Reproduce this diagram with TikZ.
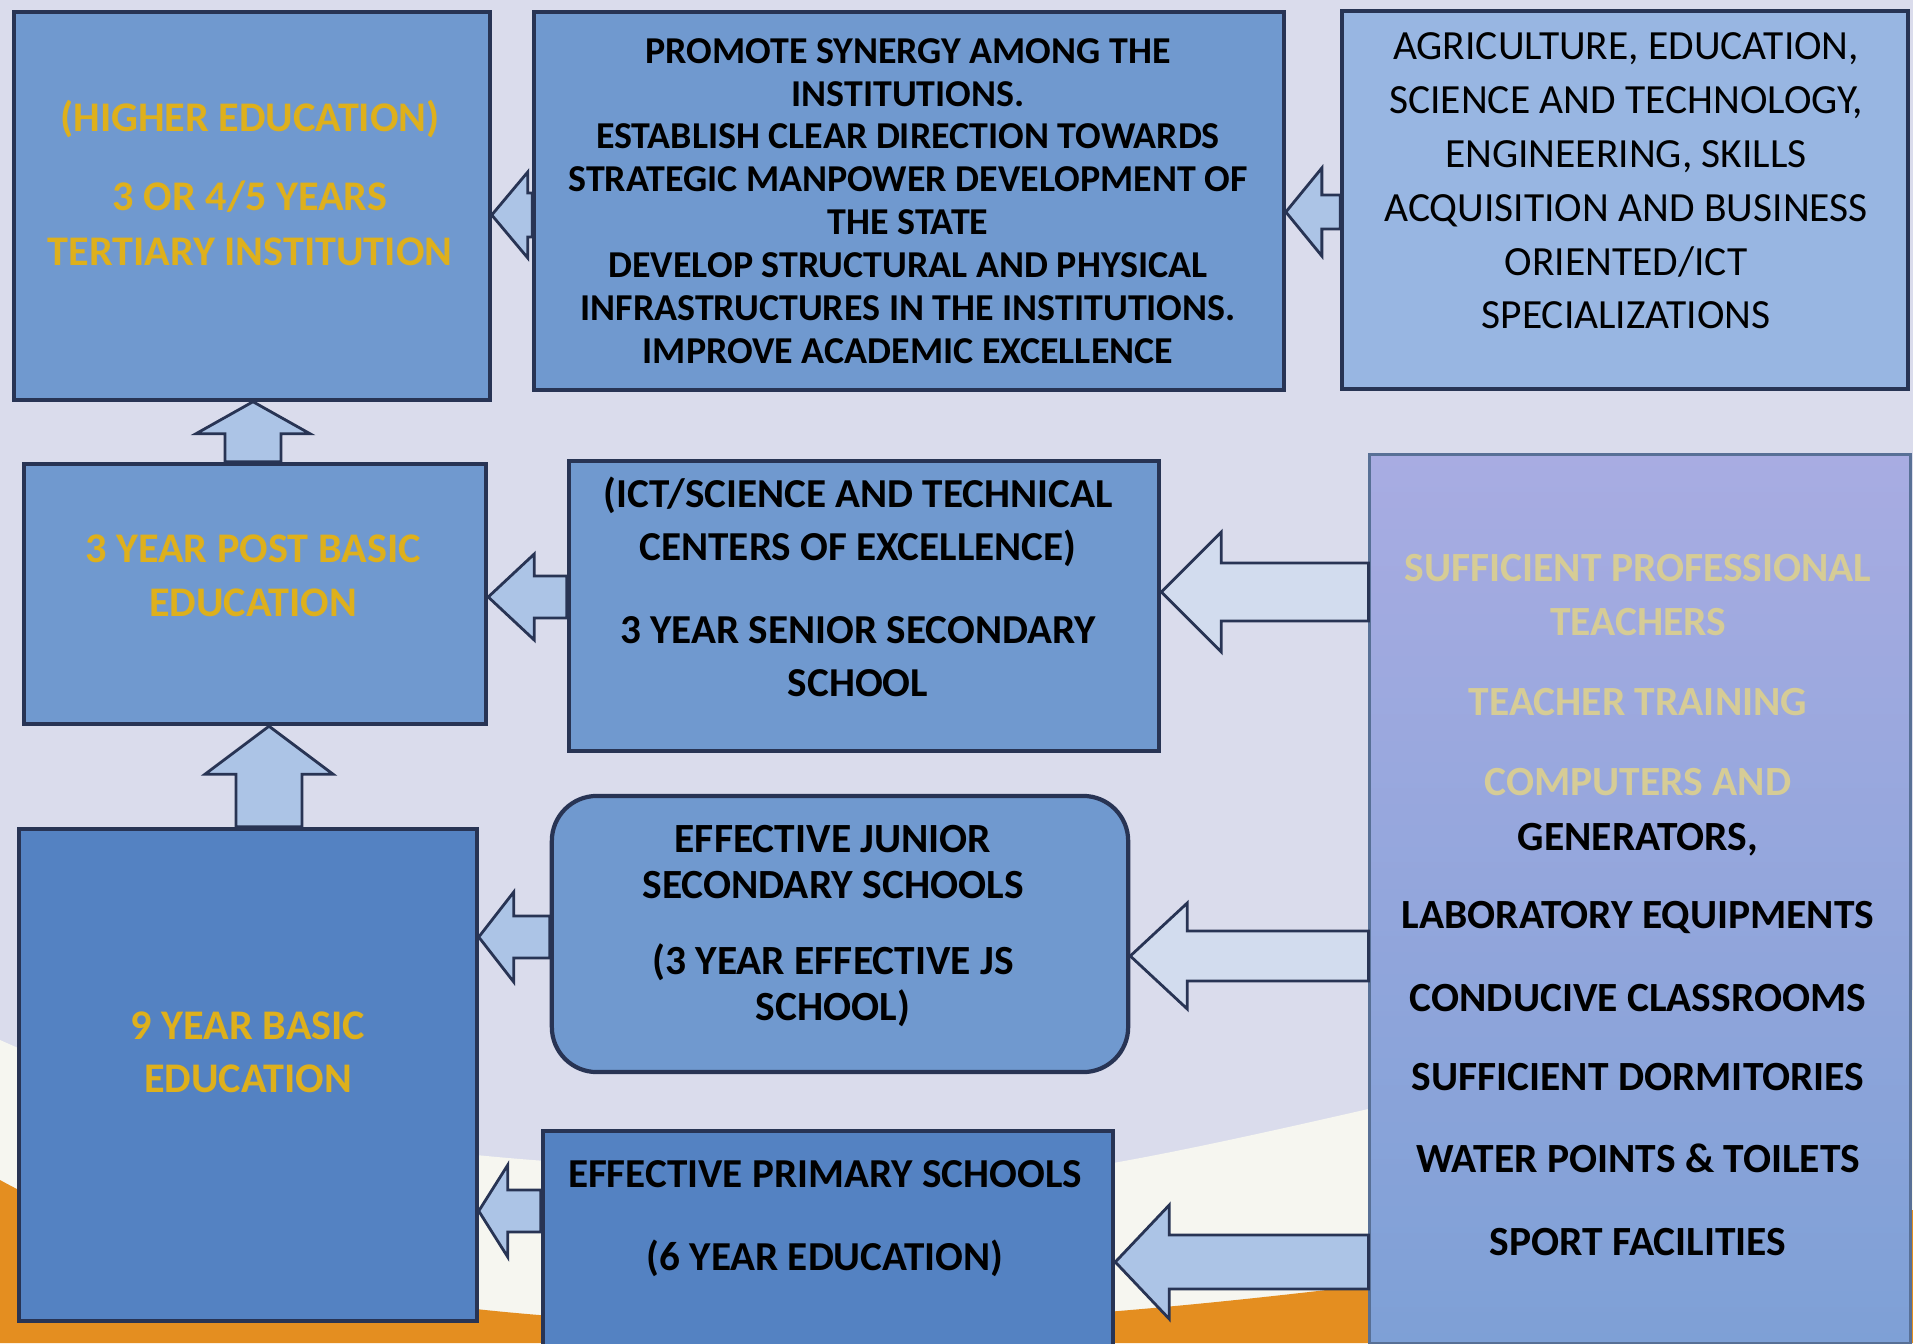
\documentclass[tikz,border=0pt]{standalone}
\usepackage{fontspec}
\setmainfont{Carlito}
\usetikzlibrary{calc}

\definecolor{wall}{RGB}{218,220,236}
\definecolor{wave}{RGB}{246,246,240}
\definecolor{sand}{RGB}{228,142,32}
\definecolor{boxblue}{RGB}{112,153,207}
\definecolor{boxpale}{RGB}{152,182,226}
\definecolor{lavtop}{RGB}{168,172,226}
\definecolor{lavbot}{RGB}{126,160,214}
\definecolor{boxdeep}{RGB}{84,130,194}
\definecolor{rim}{RGB}{40,52,84}
\definecolor{gold}{RGB}{222,176,28}
\definecolor{brass}{RGB}{214,204,150}
\definecolor{arrowfill}{RGB}{172,196,230}
\definecolor{arrowpale}{RGB}{210,220,238}

\begin{document}
\begin{tikzpicture}[x=0.01cm, y=-0.01cm,
    stage/.style={draw=rim, line width=1.2pt, fill=boxblue, inner sep=0pt},
    say/.style 2 args={align=center, font=\bfseries\fontsize{#1}{#2}\selectfont},
    barrow/.style n args={3}{draw=rim, line width=0.8pt, fill=arrowfill, line join=miter,
      to path={let \p1=(\tikztostart), \p2=(\tikztotarget),
        \n1={veclen(\x2-\x1,\y2-\y1)}, \n2={(\x2-\x1)/\n1}, \n3={(\y2-\y1)/\n1},
        \n4={#1*0.2845}, \n5={#2*0.2845}, \n6={#3*0.2845} in
        ({\x1-(\n3)*\n4},{\y1+(\n2)*\n4})
        -- ({\x2-(\n2)*\n6-(\n3)*\n4},{\y2-(\n3)*\n6+(\n2)*\n4})
        -- ({\x2-(\n2)*\n6-(\n3)*\n5},{\y2-(\n3)*\n6+(\n2)*\n5})
        -- (\p2)
        -- ({\x2-(\n2)*\n6+(\n3)*\n5},{\y2-(\n3)*\n6-(\n2)*\n5})
        -- ({\x2-(\n2)*\n6+(\n3)*\n4},{\y2-(\n3)*\n6-(\n2)*\n4})
        -- ({\x1+(\n3)*\n4},{\y1-(\n2)*\n4}) -- cycle}}]

  % poster background
  \useasboundingbox[fill=wall] (0,0) rectangle (1913,1343);
  \fill[wave] (0,1040) .. controls (300,1175) and (700,1180) .. (1113,1163)
    .. controls (1300,1130) and (1600,1050) .. (1913,990) -- (1913,1343) -- (0,1343) -- cycle;
  \fill[sand] (0,1180) .. controls (200,1290) and (500,1325) .. (800,1325)
    .. controls (1100,1325) and (1400,1285) .. (1913,1210) -- (1913,1343) -- (0,1343) -- cycle;

  % boxes
  \node[stage, minimum width=4.75cm, minimum height=3.87cm] (He) at (252,206) {};
  \node[stage, minimum width=7.49cm, minimum height=3.78cm] (Sy) at (909,201) {};
  \node[stage, fill=boxpale, minimum width=5.65cm, minimum height=3.78cm] (Ag) at (1625,200) {};
  \node[stage, minimum width=4.62cm, minimum height=2.60cm] (Pb) at (255,594) {};
  \node[stage, minimum width=5.90cm, minimum height=2.90cm] (Ss) at (864,606) {};
  \node[stage, top color=lavtop, bottom color=lavbot, draw=lavbot!70!black, line width=0.8pt,
        minimum width=5.40cm, minimum height=8.88cm] (Re) at (1640,899) {};
  \node[stage, fill=boxdeep, minimum width=4.57cm, minimum height=4.92cm] (Bb) at (248,1075) {};
  \node[stage, rounded corners=0.45cm, minimum width=5.76cm, minimum height=2.76cm] (Js) at (840,934) {};
  \node[stage, fill=boxdeep, minimum width=5.70cm, minimum height=2.20cm] (Pr) at (828,1241) {};

  % texts
  \node[say={12}{15.6}, text=gold] (HeT) at (250,183)
    {(HIGHER EDUCATION)\\[6.8pt] 3 OR 4/5 YEARS\\ TERTIARY INSTITUTION};
  \node[say={10.8}{12.2}] (SyT) at (908,201)
    {PROMOTE SYNERGY AMONG THE\\ INSTITUTIONS.\\ ESTABLISH CLEAR DIRECTION TOWARDS\\
     STRATEGIC MANPOWER DEVELOPMENT OF\\ THE STATE\\ DEVELOP STRUCTURAL AND PHYSICAL\\
     INFRASTRUCTURES IN THE INSTITUTIONS.\\ IMPROVE ACADEMIC EXCELLENCE};
  \node[align=center, font=\fontsize{11.8}{15.3}\selectfont] (AgT) at (1626,181)
    {AGRICULTURE, EDUCATION,\\ SCIENCE AND TECHNOLOGY,\\ ENGINEERING, SKILLS\\
     ACQUISITION AND BUSINESS\\ ORIENTED/ICT\\ SPECIALIZATIONS};
  \node[say={12}{15.4}, text=gold] (PbT) at (253,576) {3 YEAR POST BASIC\\ EDUCATION};
  \node[say={11.7}{15.1}] (SsT) at (858,587)
    {(ICT/SCIENCE AND TECHNICAL\\ CENTERS OF EXCELLENCE)\\[8.5pt] 3 YEAR SENIOR SECONDARY\\ SCHOOL};
  \node[say={11.8}{13.1}] (JsT) at (833,926)
    {EFFECTIVE JUNIOR\\ SECONDARY SCHOOLS\\[8.5pt] (3 YEAR EFFECTIVE JS\\ SCHOOL)};
  \node[say={11.7}{23.6}] (PrT) at (825,1219) {EFFECTIVE PRIMARY SCHOOLS\\ (6 YEAR EDUCATION)};
  \node[say={12}{15.1}, text=gold] (BbT) at (248,1052) {9 YEAR BASIC\\ EDUCATION};
  \node[say={11.8}{15.6}] (ReT) at (1638,905)
    {{\color{brass}SUFFICIENT PROFESSIONAL}\\ {\color{brass}TEACHERS}\\[6.9pt]
     {\color{brass}TEACHER TRAINING}\\[7.4pt] {\color{brass}COMPUTERS AND}\\ GENERATORS,\\[6.6pt]
     LABORATORY EQUIPMENTS\\[8pt] CONDUCIVE CLASSROOMS\\[6.9pt] SUFFICIENT DORMITORIES\\[7.7pt]
     WATER POINTS \& TOILETS\\[8pt] SPORT FACILITIES};

  % block arrows
  \draw[barrow={28}{57}{32}] (Pb.north -| 253,0) to (He.south -| 253,0);
  \draw[barrow={33}{64}{48}] (Bb.north -| 269,0) to (Pb.south -| 269,0);
  \draw[barrow={22}{43}{36}] (Sy.west |- 0,215) to (He.east |- 0,215);
  \draw[barrow={17}{44}{36}] (Ag.west |- 0,212) to (Sy.east |- 0,212);
  \draw[barrow={21}{43}{46}] (Ss.west |- 0,597) to (Pb.east |- 0,597);
  \draw[barrow={29}{60}{60}, fill=arrowpale] (Re.west |- 0,592) to (Ss.east |- 0,592);
  \draw[barrow={21}{45}{35}] (Js.west |- 0,937) to (Bb.east |- 0,937);
  \draw[barrow={25}{53}{57}, fill=arrowpale] (Re.west |- 0,956) to (Js.east |- 0,956);
  \draw[barrow={21}{46}{29}] (Pr.west |- 0,1211) to (Bb.east |- 0,1211);
  \draw[barrow={27}{57}{54}] (Re.west |- 0,1262) to (Pr.east |- 0,1262);
\end{tikzpicture}
\end{document}
